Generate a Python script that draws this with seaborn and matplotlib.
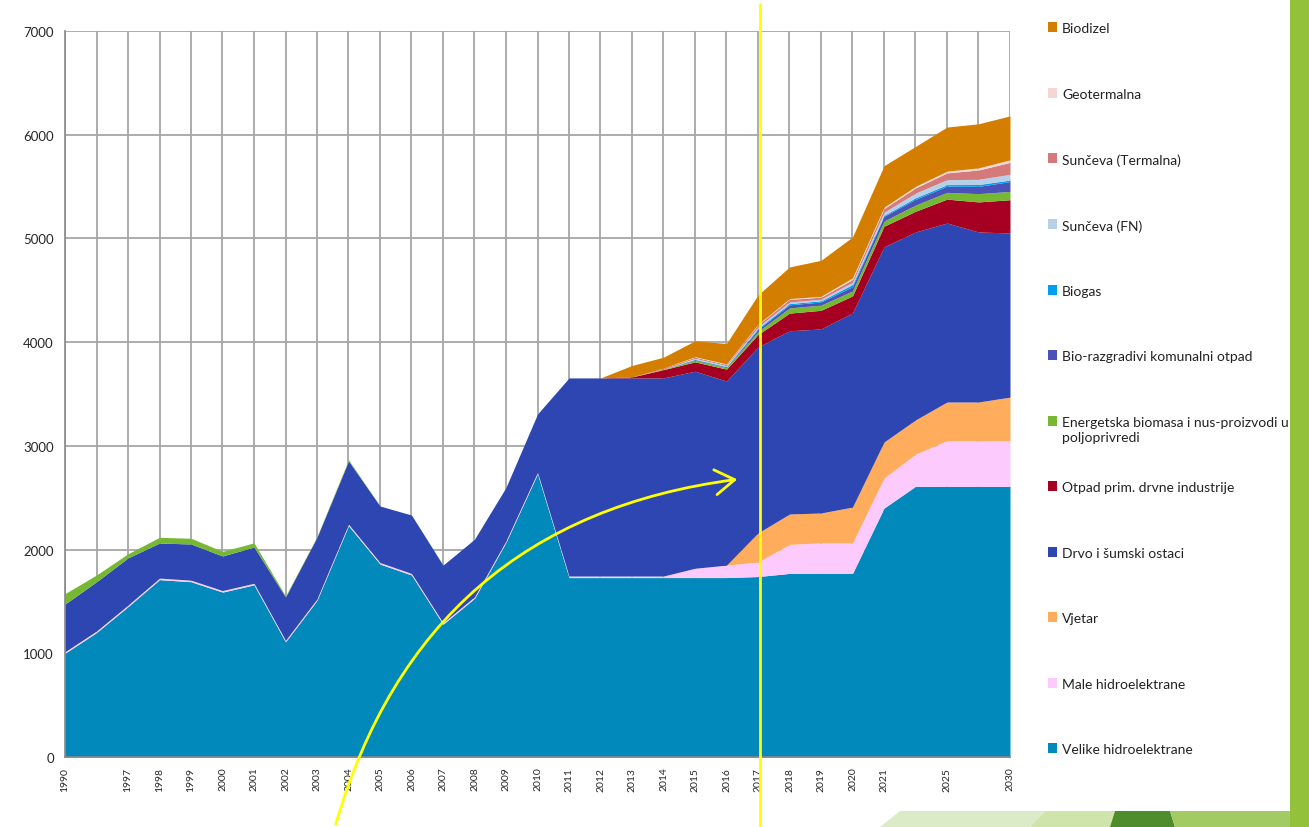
import numpy as np
import pandas as pd
import matplotlib
matplotlib.use("Agg")
import matplotlib.pyplot as plt
import seaborn as sns
from matplotlib.patches import Rectangle, Polygon, FancyArrowPatch
from matplotlib.lines import Line2D

# x categories (Excel style, some labels left blank)
years = ['1990', '', '1997', '1998', '1999', '2000', '2001', '2002', '2003', '2004',
         '2005', '2006', '2007', '2008', '2009', '2010', '2011', '2012', '2013', '2014',
         '2015', '2016', '2017', '2018', '2019', '2020', '2021', '', '2025', '', '2030']

# series, bottom of the stack first
velike = [1000, 1200, 1450, 1710, 1690, 1590, 1660, 1110, 1510, 2230, 1860, 1755, 1280, 1530,
          2070, 2730, 1730, 1730, 1730, 1730, 1730, 1730, 1740, 1770, 1770, 1770, 2400, 2610,
          2610, 2610, 2610]
male = [15] * 20 + [90, 120, 140, 280, 295, 295, 290, 310, 440, 440, 440]
vjetar = [0] * 21 + [0, 280, 293, 288, 345, 347, 330, 373, 373, 420]
drvo = [460, 475, 455, 338, 349, 333, 350, 418, 595, 610, 545, 563, 555, 555, 515, 562,
        1910, 1910, 1910, 1910, 1900, 1775, 1793, 1767, 1774, 1871, 1881, 1812, 1726, 1639, 1583]
otpad = [0] * 18 + [10, 80, 90, 115, 120, 170, 180, 165, 200, 200, 230, 290, 320]
energetska = [100, 65, 40, 55, 55, 45, 40, 10, 5, 12] + [0] * 9 + [5] + \
             [15, 15, 30, 50, 50, 48, 50, 60, 65, 80, 80]
komunalni = [0] * 20 + [5, 5, 20, 30, 30, 42, 45, 55, 60, 70, 95]
biogas = [0] * 20 + [5, 5, 10, 12, 12, 20, 10, 15, 15, 18, 15]
sunceva_fn = [0] * 20 + [10, 10, 15, 15, 15, 22, 30, 45, 48, 50, 55]
sunceva_term = [0] * 19 + [10] + [10, 10, 20, 25, 20, 26, 35, 50, 65, 90, 115]
geotermalna = [0] * 20 + [5, 5, 5, 8, 8, 16, 13, 15, 17, 20, 25]
biodizel = [0] * 18 + [110, 105, 153, 197, 282, 305, 347, 394, 400, 385, 425, 425, 424]

labels = ['Velike hidroelektrane', 'Male hidroelektrane', 'Vjetar', 'Drvo i šumski ostaci',
          'Otpad prim. drvne industrije', 'Energetska biomasa i nus-proizvodi u\npoljoprivredi',
          'Bio-razgradivi komunalni otpad', 'Biogas', 'Sunčeva (FN)', 'Sunčeva (Termalna)',
          'Geotermalna', 'Biodizel']
colors = ['#0089ba', '#fdcafd', '#ffad5c', '#2d46b2', '#a50021', '#77b833',
          '#4a52b8', '#00a0ef', '#b8cfe8', '#d47a7a', '#f5d6d6', '#d47e00']

df = pd.DataFrame({labels[i]: s for i, s in enumerate(
    [velike, male, vjetar, drvo, otpad, energetska, komunalni, biogas,
     sunceva_fn, sunceva_term, geotermalna, biodizel])})
df['pos'] = np.arange(len(years))

sns.set_style("white")
plt.rcParams['font.family'] = ['Lato', 'DejaVu Sans']

fig = plt.figure(figsize=(13.09, 8.28), dpi=100)
W, H = 1309, 828
ax = fig.add_axes([65 / W, 1 - 758 / H, 945 / W, 726 / H])

ax.stackplot(df['pos'], *[df[l] for l in labels], colors=colors, linewidth=0)

ax.set_xlim(0, len(years) - 1)
ax.set_ylim(0, 7000)
ax.set_xticks(df['pos'])
ax.set_xticklabels(years, rotation=90, fontsize=7.5)
ax.set_yticks(range(0, 7001, 1000))
ax.tick_params(axis='y', labelsize=9.5, length=4, color='#888888', pad=4)
ax.tick_params(axis='x', length=4, color='#888888', pad=3)
ax.grid(True, color='#a6a6a6', linewidth=1.3)
ax.set_axisbelow(True)
for side in ['top', 'right']:
    ax.spines[side].set_visible(False)
for side in ['left', 'bottom']:
    ax.spines[side].set_color('#888888')
    ax.spines[side].set_linewidth(1.2)

# legend, drawn as evenly spaced entries like the original
leg_y = [28, 94, 159, 225, 291, 356, 422, 487, 553, 618, 684, 749]
for k, (lab, col) in enumerate(zip(labels[::-1], colors[::-1])):
    y = leg_y[k]
    fig.patches.append(Rectangle((1048 / W, 1 - (y + 5) / H), 9 / W, 10 / H,
                                 transform=fig.transFigure, facecolor=col, edgecolor='none'))
    fig.text(1062 / W, 1 - (y - 5) / H, lab, fontsize=10, va='top', ha='left',
             color='#222222', linespacing=1.35)

# slide decoration on the right / bottom
fig.patches.append(Rectangle((1290 / W, 0), 19 / W, 1, transform=fig.transFigure,
                             facecolor='#93c13c', edgecolor='none'))
for pts, c in [([(880, 828), (900, 812), (1045, 812), (1030, 828)], '#dcebc7'),
               ([(1030, 828), (1045, 812), (1115, 812), (1110, 828)], '#cfe4ab'),
               ([(1110, 828), (1115, 812), (1170, 812), (1175, 828)], '#4f8c2b'),
               ([(1175, 828), (1170, 812), (1290, 812), (1290, 828)], '#a3cb64')]:
    fig.patches.append(Polygon([(x / W, 1 - y / H) for x, y in pts], closed=True,
                               transform=fig.transFigure, facecolor=c, edgecolor='none'))

# yellow annotation
fig.add_artist(Line2D([760 / W, 760 / W], [0, 1 - 5 / H], transform=fig.transFigure,
                      color='#ffff00', linewidth=2))
fig.patches.append(FancyArrowPatch((335 / W, 0), (740 / W, 1 - 480 / H),
                                   transform=fig.transFigure,
                                   connectionstyle='arc3,rad=-0.33',
                                   arrowstyle='->,head_length=0.7,head_width=0.45',
                                   mutation_scale=20, color='#ffff00', linewidth=2))

fig.savefig('out.png', dpi=100, facecolor='white')
